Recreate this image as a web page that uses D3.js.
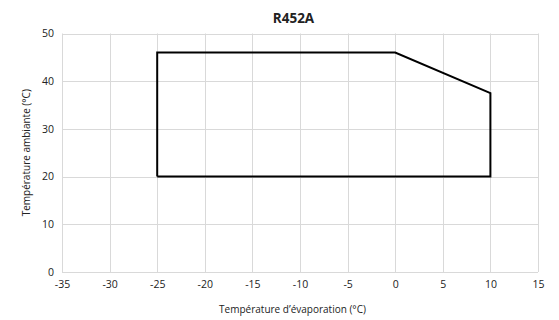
<!DOCTYPE html>
<html>
<head>
<meta charset="utf-8">
<script src="https://cdn.jsdelivr.net/npm/d3@7"></script>
<style>
  html, body { margin: 0; padding: 0; background: #fff; }
  svg text { font-family: "Open Sans", "Noto Sans", sans-serif; fill: #222; }
</style>
</head>
<body>
<svg id="chart" width="559" height="320"></svg>
<script>
// Operating envelope for R452A: evaporation temperature vs ambient temperature
const evapTemps = [-25, -25, 0, 10, 10, -25];
const ambientTemps = [20, 46, 46, 37.5, 20, 20];
const xTicks = [-35, -30, -25, -20, -15, -10, -5, 0, 5, 10, 15];
const yTicks = [0, 10, 20, 30, 40, 50];

const svg = d3.select("#chart");
const margin = { left: 62, right: 21, top: 33.5, bottom: 48 };
const W = 559, H = 320;

const x = d3.scaleLinear().domain([-35, 15]).range([margin.left, W - margin.right]);
const y = d3.scaleLinear().domain([0, 50]).range([H - margin.bottom, margin.top]);

// Plain hyphen for negative numbers
const fmt = d => String(d);

// Grid
const grid = svg.append("g").attr("stroke", "#d9d9d9").attr("stroke-width", 1);
grid.selectAll("line.v").data(xTicks).join("line")
  .attr("x1", d => Math.round(x(d)) + 0.5).attr("x2", d => Math.round(x(d)) + 0.5)
  .attr("y1", y(0)).attr("y2", y(50));
grid.selectAll("line.h").data(yTicks).join("line")
  .attr("y1", d => Math.round(y(d)) + 0.5).attr("y2", d => Math.round(y(d)) + 0.5)
  .attr("x1", x(-35)).attr("x2", x(15));

// Axes (labels only)
const xAxis = svg.append("g")
  .attr("transform", `translate(0,${y(0)})`)
  .call(d3.axisBottom(x).tickValues(xTicks).tickSize(0).tickPadding(9).tickFormat(fmt));
const yAxis = svg.append("g")
  .attr("transform", `translate(${x(-35)},0)`)
  .call(d3.axisLeft(y).tickValues(yTicks).tickSize(0).tickPadding(8).tickFormat(fmt));
[xAxis, yAxis].forEach(a => {
  a.select(".domain").remove();
  a.selectAll("text").attr("font-size", 10.5).attr("font-family", "'Open Sans', sans-serif").attr("fill", "#222");
});

// Envelope
const line = d3.line().x((d, i) => x(evapTemps[i])).y((d, i) => y(ambientTemps[i]));
svg.append("path")
  .attr("d", line(evapTemps))
  .attr("fill", "none")
  .attr("stroke", "#000")
  .attr("stroke-width", 2)
  .attr("stroke-linejoin", "miter");

// Titles
svg.append("text").attr("x", 293.5).attr("y", 23)
  .attr("text-anchor", "middle").attr("font-size", 13.5).attr("font-weight", "bold")
  .text("R452A");
svg.append("text").attr("x", 292.5).attr("y", 313)
  .attr("text-anchor", "middle").attr("font-size", 10)
  .text("Température d’évaporation (°C)");
svg.append("text")
  .attr("transform", `translate(30,${(y(0) + y(50)) / 2}) rotate(-90)`)
  .attr("text-anchor", "middle").attr("font-size", 10)
  .text("Température ambiante (°C)");
</script>
</body>
</html>
